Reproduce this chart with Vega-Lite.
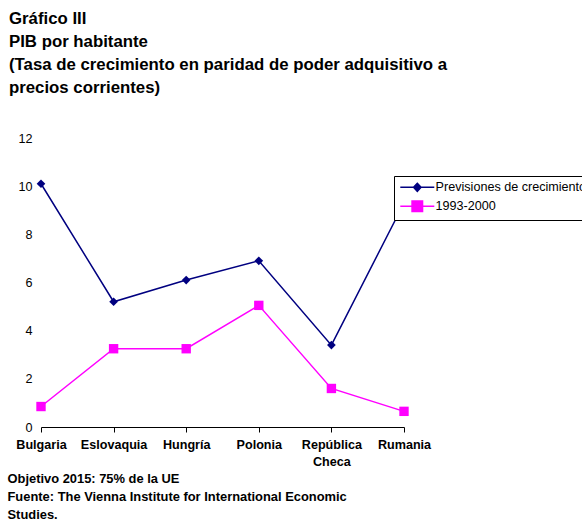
{
  "$schema": "https://vega.github.io/schema/vega-lite/v6.json",
  "autosize": "none",
  "width": 363,
  "height": 289,
  "padding": {"left": 41, "top": 138, "right": 178, "bottom": 99},
  "background": "white",
  "config": {
    "font": "Liberation Sans",
    "view": {"stroke": null}
  },
  "title": {
    "text": ["Gráfico III", "PIB por habitante", "(Tasa de crecimiento en paridad de poder adquisitivo a", "precios corrientes)"],
    "anchor": "start",
    "frame": "group",
    "dx": -32,
    "offset": 35,
    "fontSize": 16.8,
    "fontWeight": "bold",
    "lineHeight": 23,
    "color": "black"
  },
  "data": {
    "values": [
      {"pais": "Bulgaria", "serie": "Previsiones de crecimiento", "valor": 10.1},
      {"pais": "Eslovaquia", "serie": "Previsiones de crecimiento", "valor": 5.2},
      {"pais": "Hungría", "serie": "Previsiones de crecimiento", "valor": 6.1},
      {"pais": "Polonia", "serie": "Previsiones de crecimiento", "valor": 6.9},
      {"pais": "República Checa", "serie": "Previsiones de crecimiento", "valor": 3.4},
      {"pais": "Rumania", "serie": "Previsiones de crecimiento", "valor": 9.3},
      {"pais": "Bulgaria", "serie": "1993-2000", "valor": 0.85},
      {"pais": "Eslovaquia", "serie": "1993-2000", "valor": 3.25},
      {"pais": "Hungría", "serie": "1993-2000", "valor": 3.25},
      {"pais": "Polonia", "serie": "1993-2000", "valor": 5.05},
      {"pais": "República Checa", "serie": "1993-2000", "valor": 1.6},
      {"pais": "Rumania", "serie": "1993-2000", "valor": 0.65}
    ]
  },
  "encoding": {
    "x": {
      "field": "pais",
      "type": "nominal",
      "sort": null,
      "scale": {"type": "point", "padding": 0},
      "axis": {
        "title": ["Objetivo 2015: 75% de la UE", "Fuente: The Vienna Institute for International Economic", "Studies."],
        "titleFontSize": 12.9,
        "titleFontWeight": "bold",
        "titleColor": "black",
        "titleAnchor": "start",
        "titleAlign": "left",
        "titleBaseline": "top",
        "titleX": -34,
        "titleY": 45,
        "titleLineHeight": 18,
        "labelAngle": 0,
        "labelFontSize": 12.6,
        "labelFontWeight": "bold",
        "labelColor": "black",
        "labelPadding": 6,
        "labelLineHeight": 17,
        "labelExpr": "datum.label == 'República Checa' ? ['República', 'Checa'] : datum.label",
        "domainColor": "black",
        "tickColor": "black",
        "tickSize": 5,
        "grid": false
      }
    },
    "y": {
      "field": "valor",
      "type": "quantitative",
      "scale": {"domain": [0, 12], "nice": false},
      "axis": {
        "title": null,
        "values": [0, 2, 4, 6, 8, 10, 12],
        "domain": false,
        "ticks": false,
        "grid": false,
        "labelFontSize": 12.6,
        "labelColor": "black",
        "labelPadding": 9
      }
    }
  },
  "layer": [
    {
      "transform": [{"filter": "datum.serie == 'Previsiones de crecimiento'"}],
      "mark": {"type": "line", "strokeWidth": 1.5, "color": "#000080"}
    },
    {
      "transform": [{"filter": "datum.serie == '1993-2000'"}],
      "mark": {"type": "line", "strokeWidth": 1.5, "color": "#FF00FF"}
    },
    {
      "transform": [{"filter": "datum.serie == 'Previsiones de crecimiento'"}],
      "mark": {"type": "point", "shape": "diamond", "filled": true, "opacity": 1, "color": "#000080", "size": 75}
    },
    {
      "transform": [{"filter": "datum.serie == '1993-2000'"}],
      "mark": {"type": "point", "shape": "square", "filled": true, "opacity": 1, "color": "#FF00FF", "size": 88}
    },
    {
      "transform": [{"filter": "datum.valor > 1000"}],
      "mark": {"type": "point", "opacity": 1, "strokeWidth": 1.5},
      "encoding": {
        "fill": {
          "field": "serie",
          "type": "nominal",
          "scale": {"domain": ["Previsiones de crecimiento", "1993-2000"], "range": ["#000080", "#FF00FF"]},
          "legend": null
        },
        "stroke": {
          "field": "serie",
          "type": "nominal",
          "scale": {"domain": ["Previsiones de crecimiento", "1993-2000"], "range": ["#000080", "#FF00FF"]},
          "legend": null
        },
        "shape": {
          "field": "serie",
          "type": "nominal",
          "scale": {"domain": ["Previsiones de crecimiento", "1993-2000"], "range": ["M-3.4,0H3.4M0,-0.8L0.75,0L0,0.8L-0.75,0Z", "M-3.4,0H3.4M-1.05,-1.05H1.05V1.05H-1.05Z"]},
          "legend": {
            "title": null,
            "orient": "none",
            "legendX": 353,
            "legendY": 38,
            "padding": 5,
            "fillColor": "white",
            "strokeColor": "black",
            "symbolSize": 100,
            "symbolOffset": 12,
            "labelOffset": 12,
            "rowPadding": 3,
            "symbolStrokeWidth": 1.5,
            "symbolOpacity": 1,
            "labelFontSize": 12.6,
            "labelColor": "black",
            "labelLimit": 0,
            "cornerRadius": 0
          }
        }
      }
    }
  ]
}
